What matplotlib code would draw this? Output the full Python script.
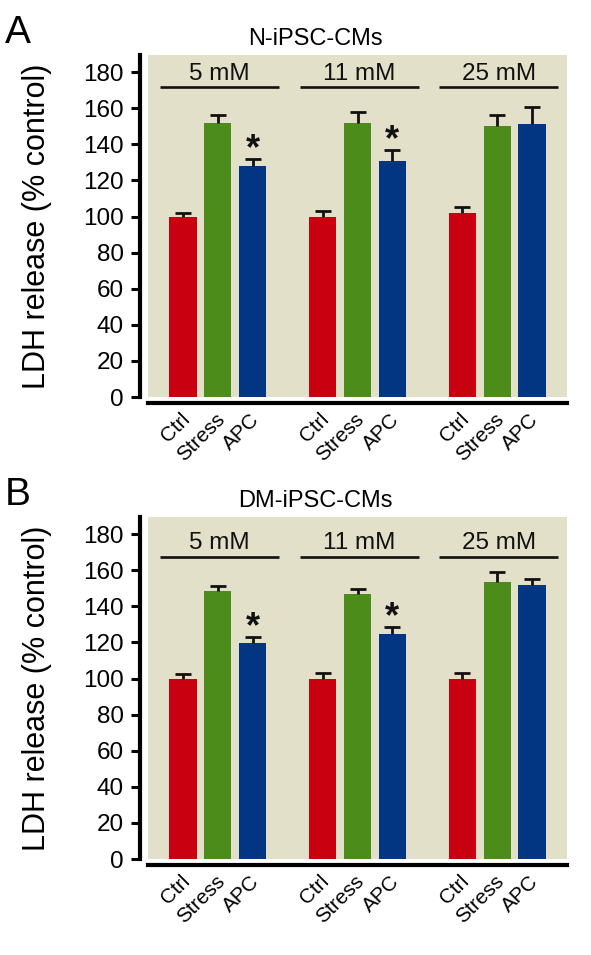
import matplotlib
matplotlib.use("Agg")
import matplotlib.pyplot as plt
import matplotlib.transforms as mtransforms
import numpy as np

plt.rcParams['font.family'] = ['Liberation Sans', 'DejaVu Sans']

# ---- data ----
conditions = ["Ctrl", "Stress", "APC"]
glucose = ["5 mM", "11 mM", "25 mM"]
panel_titles = ["N-iPSC-CMs", "DM-iPSC-CMs"]
panel_letters = ["A", "B"]

n_vals = [100, 152, 128, 100, 152, 131, 102, 150, 151.5]
n_err = [2, 4, 4, 3, 6, 6, 3.2, 6.3, 9]
n_star = [False, False, True, False, False, True, False, False, False]

dm_vals = [100, 148.7, 119.8, 100, 146.8, 124.6, 100, 153.7, 151.8]
dm_err = [2.6, 2.8, 3, 3.3, 2.8, 4.1, 3.3, 5.6, 3.4]
dm_star = [False, False, True, False, False, True, False, False, False]

yticks = [0, 20, 40, 60, 80, 100, 120, 140, 160, 180]

colors = ["#c8000f", "#4b8c1b", "#033682"]
bg = "#e2e0c8"

W, H = 591, 955
fig = plt.figure(figsize=(W / 100, H / 100), dpi=100)

positions = []
for g in range(3):
    for c in range(3):
        positions.append(g * 4 + c)
positions = np.array(positions, dtype=float)

panels = [
    dict(vals=n_vals, err=n_err, star=n_star, top=55, bot=397, bracket=171.5),
    dict(vals=dm_vals, err=dm_err, star=dm_star, top=517, bot=859, bracket=167.5),
]

for i, p in enumerate(panels):
    left = 148 / W
    width = (567 - 148) / W
    bottom = 1 - p["bot"] / H
    height = (p["bot"] - p["top"]) / H
    ax = fig.add_axes([left, bottom, width, height])
    ax.set_facecolor(bg)
    # spines first (set_position resets ticks)
    for side in ["top", "right"]:
        ax.spines[side].set_visible(False)
    ax.spines["left"].set_position(("outward", 6))
    ax.spines["bottom"].set_position(("outward", 4.3))
    ax.spines["left"].set_linewidth(3)
    ax.spines["bottom"].set_linewidth(3)

    bar_colors = colors * 3
    ax.bar(positions, p["vals"], width=0.78, color=bar_colors, edgecolor="none", zorder=2)
    lower = np.zeros(len(p["err"]))
    eb = ax.errorbar(positions, p["vals"], yerr=[lower, p["err"]], fmt="none",
                     ecolor="#111111", elinewidth=2.0, capsize=5.5, capthick=2.0, zorder=3)
    caplines = eb[1]
    if len(caplines) >= 2:
        caplines[0].set_visible(False)
    tops = np.array(p["vals"]) + np.array(p["err"])
    for x, t, s in zip(positions, tops, p["star"]):
        if s:
            ax.annotate("*", (x, t), xytext=(0, 0), textcoords="offset points",
                        ha="center", va="baseline", fontsize=26, fontweight="bold",
                        color="#111111")
    # group brackets
    for g, lab in enumerate(glucose):
        x0 = g * 4 - 0.66
        x1 = g * 4 + 2.75
        ax.plot([x0, x1], [p["bracket"], p["bracket"]], color="#111111", lw=1.9,
                solid_capstyle="butt", zorder=3)
        ax.text((x0 + x1) / 2, p["bracket"] + 1.5, lab, ha="center", va="bottom",
                fontsize=17.5, color="#111111")
    ax.set_xlim(-1, 11)
    ax.set_ylim(0, 189.5)
    ax.tick_params(axis="x", length=0, pad=5, labelsize=15)
    ax.tick_params(axis="y", length=6.5, width=2.2, pad=5, labelsize=17.5, direction="out")
    ax.set_yticks(yticks)
    ax.set_yticklabels([str(v) for v in yticks])
    ax.set_xticks(positions)
    ax.set_xticklabels(conditions * 3, rotation=45, ha="right", va="top",
                       rotation_mode="anchor", fontsize=15)
    offset = mtransforms.ScaledTranslation(-3 / 100, 0, fig.dpi_scale_trans)
    for lbl in ax.get_xticklabels():
        lbl.set_transform(lbl.get_transform() + offset)
    ax.set_ylabel("LDH release (% control)", fontsize=22)
    ax.yaxis.set_label_coords(-0.23, 0.5)
    # panel title
    trans = mtransforms.blended_transform_factory(ax.transData, ax.transAxes)
    ax.text(3.8, 1.0 + 10 / (p["bot"] - p["top"]), panel_titles[i], transform=trans,
            ha="center", va="baseline", fontsize=17)
    fig.text(5 / W, 1 - (p["top"] - 12) / H, panel_letters[i], fontsize=28,
             ha="left", va="baseline")

fig.savefig("out.png", dpi=100)
